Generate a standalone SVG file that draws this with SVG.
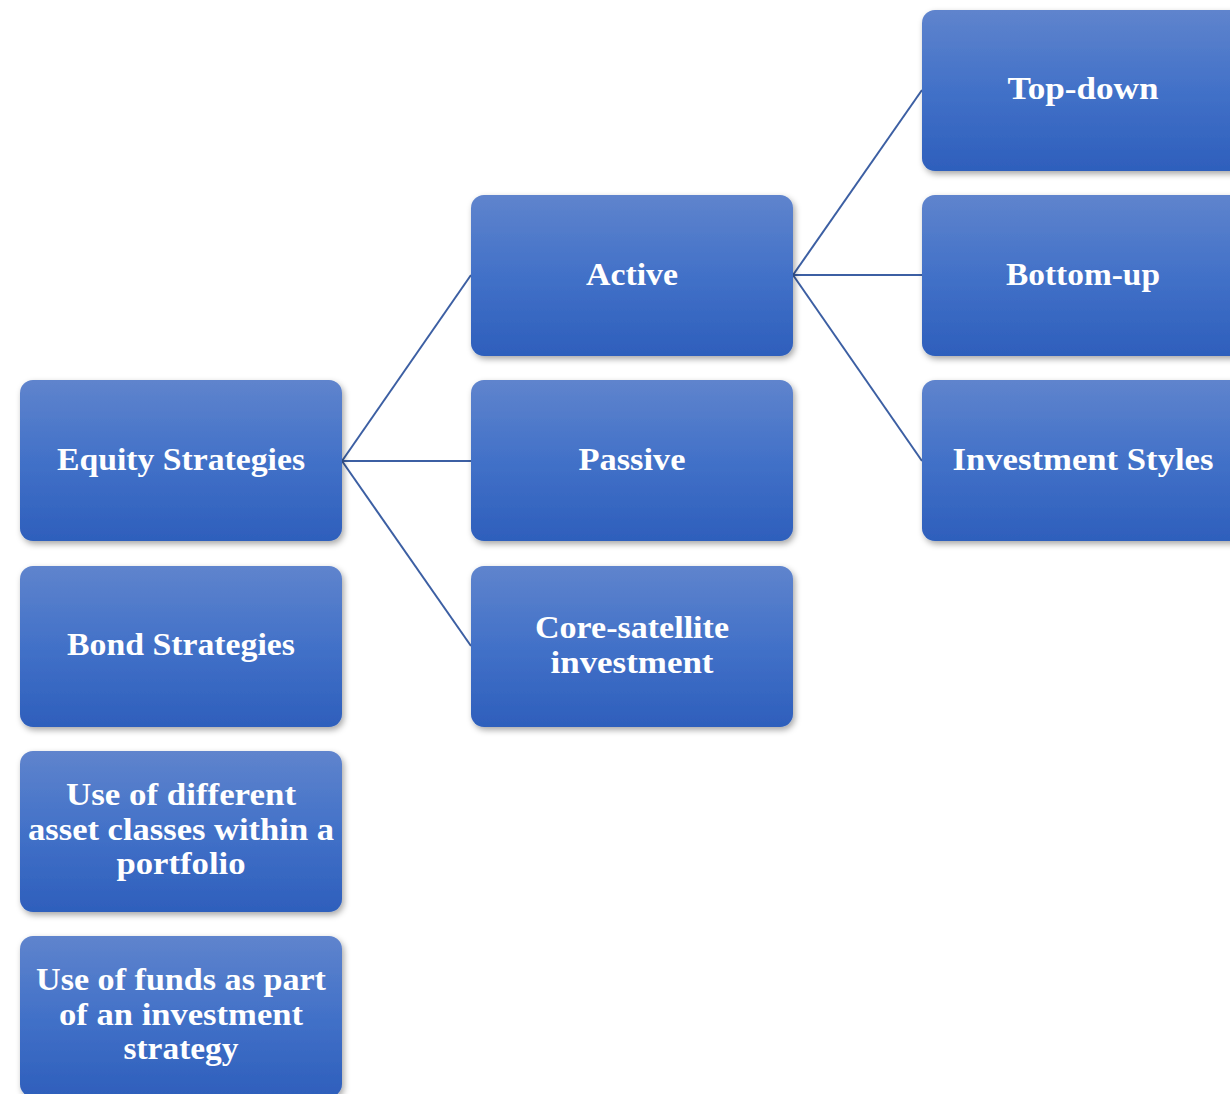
<svg xmlns="http://www.w3.org/2000/svg" width="1230" height="1094" viewBox="0 0 1230 1094">
<defs>
<linearGradient id="g" x1="0" y1="0" x2="0" y2="1">
<stop offset="0" stop-color="#5f84cd"/>
<stop offset="0.5" stop-color="#4271c8"/>
<stop offset="1" stop-color="#2e5fbc"/>
</linearGradient>
<filter id="sh" x="-10%" y="-10%" width="125%" height="130%">
<feDropShadow dx="2" dy="3" stdDeviation="3" flood-color="#000" flood-opacity="0.35"/>
</filter>
</defs>
<style>
.box{fill:url(#g);filter:url(#sh)}
.t{font-family:"Liberation Serif","DejaVu Serif",serif;font-weight:bold;font-size:32.5px;fill:#fff;text-anchor:middle}
.c{stroke:#3c5fa3;stroke-width:2;fill:none}
</style>
<rect width="1230" height="1094" fill="#fff"/>
<g id="connectors">
<line class="c" x1="342" y1="461" x2="471" y2="275"/>
<line class="c" x1="342" y1="461" x2="471" y2="461"/>
<line class="c" x1="342" y1="461" x2="471" y2="646"/>
<line class="c" x1="793" y1="275" x2="922" y2="90"/>
<line class="c" x1="793" y1="275" x2="922" y2="275"/>
<line class="c" x1="793" y1="275" x2="922" y2="461"/>
</g>
<g id="equity"><rect class="box" x="20" y="380" width="322" height="161" rx="13"/><text class="t" x="181" y="470" textLength="248" lengthAdjust="spacingAndGlyphs">Equity Strategies</text></g>
<g id="bond"><rect class="box" x="20" y="566" width="322" height="161" rx="13"/><text class="t" x="181" y="655" textLength="228" lengthAdjust="spacingAndGlyphs">Bond Strategies</text></g>
<g id="assets"><rect class="box" x="20" y="751" width="322" height="161" rx="13"/><text class="t" x="181" y="805" textLength="230" lengthAdjust="spacingAndGlyphs">Use of different</text><text class="t" x="181" y="840" textLength="306" lengthAdjust="spacingAndGlyphs">asset classes within a</text><text class="t" x="181" y="874" textLength="129" lengthAdjust="spacingAndGlyphs">portfolio</text></g>
<g id="funds"><rect class="box" x="20" y="936" width="322" height="161" rx="13"/><text class="t" x="181" y="990" textLength="290" lengthAdjust="spacingAndGlyphs">Use of funds as part</text><text class="t" x="181" y="1025" textLength="244" lengthAdjust="spacingAndGlyphs">of an investment</text><text class="t" x="181" y="1059" textLength="115" lengthAdjust="spacingAndGlyphs">strategy</text></g>
<g id="active"><rect class="box" x="471" y="195" width="322" height="161" rx="13"/><text class="t" x="632" y="285" textLength="92" lengthAdjust="spacingAndGlyphs">Active</text></g>
<g id="passive"><rect class="box" x="471" y="380" width="322" height="161" rx="13"/><text class="t" x="632" y="470" textLength="107" lengthAdjust="spacingAndGlyphs">Passive</text></g>
<g id="core"><rect class="box" x="471" y="566" width="322" height="161" rx="13"/><text class="t" x="632" y="638" textLength="194" lengthAdjust="spacingAndGlyphs">Core-satellite</text><text class="t" x="632" y="673" textLength="163" lengthAdjust="spacingAndGlyphs">investment</text></g>
<g id="topdown"><rect class="box" x="922" y="10" width="322" height="161" rx="13"/><text class="t" x="1083" y="99" textLength="151" lengthAdjust="spacingAndGlyphs">Top-down</text></g>
<g id="bottomup"><rect class="box" x="922" y="195" width="322" height="161" rx="13"/><text class="t" x="1083" y="285" textLength="154" lengthAdjust="spacingAndGlyphs">Bottom-up</text></g>
<g id="styles"><rect class="box" x="922" y="380" width="322" height="161" rx="13"/><text class="t" x="1083" y="470" textLength="261" lengthAdjust="spacingAndGlyphs">Investment Styles</text></g>
</svg>
